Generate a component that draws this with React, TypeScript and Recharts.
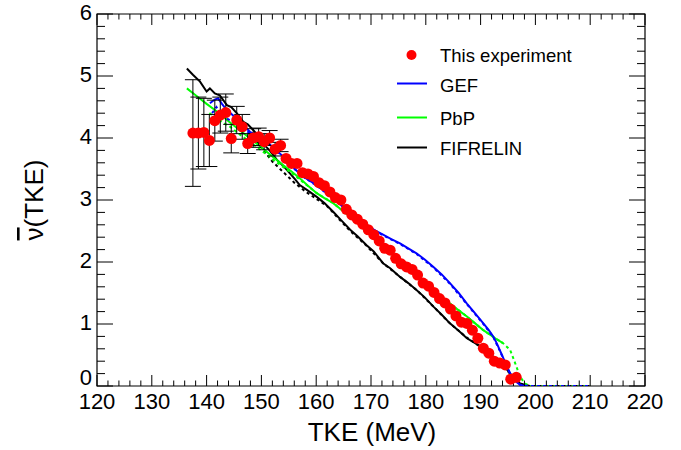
import React from 'react';
import { ComposedChart, Line, Scatter, ErrorBar, XAxis, YAxis, ReferenceArea } from 'recharts';

// measured experimental points (TKE in MeV, mean neutron multiplicity)
const expTke = [
  137.5, 138.5, 139.5, 140.5, 141.5, 142.5, 143.5, 144.5, 145.5, 146.5,
  147.5, 148.5, 149.5, 150.5, 151.5, 152.5, 153.5, 154.5, 155.5, 156.5,
  157.5, 158.5, 159.5, 160.5, 161.5, 162.5, 163.5, 164.5, 165.5, 166.5,
  167.5, 168.5, 169.5, 170.5, 171.5, 172.5, 173.5, 174.5, 175.5, 176.5,
  177.5, 178.5, 179.5, 180.5, 181.5, 182.5, 183.5, 184.5, 185.5, 186.5,
  187.5, 188.5, 189.5, 190.5, 191.5, 192.5, 193.5, 194.5, 195.5, 196.5,
];
const expNu = [
  4.08, 4.08, 4.09, 3.96, 4.28, 4.37, 4.41, 3.99, 4.29, 4.18,
  3.91, 4.0, 4.02, 3.94, 4.0, 3.82, 3.88, 3.67, 3.59, 3.59,
  3.44, 3.42, 3.38, 3.28, 3.23, 3.13, 3.04, 3.0, 2.85, 2.76,
  2.69, 2.61, 2.52, 2.44, 2.34, 2.22, 2.19, 2.06, 1.97, 1.92,
  1.88, 1.79, 1.66, 1.61, 1.51, 1.41, 1.34, 1.24, 1.13, 1.03,
  1.01, 0.9, 0.77, 0.61, 0.53, 0.4, 0.37, 0.34, 0.11, 0.14,
];
// uncertainties; beyond ~155 MeV they are hidden under the markers
const expErr = [
  0.86, 0.58, 0.55, 0.42, 0.33, 0.29, 0.3, 0.23, 0.22, 0.2,
  0.16, 0.15, 0.14, 0.13, 0.12, 0.11, 0.1,
];

// GEF
const gefTke = [140.6, 141.5, 142.1, 142.8, 143.7, 145.0, 146.1, 147.9, 149.5, 151.0, 152.5, 154.0, 155.5, 157.0, 158.5, 160.1, 161.5, 163.1, 164.5, 166.2, 167.7, 169.2, 170.7, 172.2, 173.7, 175.3, 176.8, 178.3, 179.8, 181.4, 182.9, 184.4, 186.0, 187.5, 189.0, 190.5, 191.5, 192.3, 193.0, 193.5, 194.0, 194.5, 195.1, 195.7, 196.5, 197.2, 198.0];
const gefNu = [4.56, 4.62, 4.64, 4.55, 4.45, 4.35, 4.26, 4.1, 4.02, 3.94, 3.82, 3.7, 3.56, 3.42, 3.33, 3.24, 3.14, 3.03, 2.92, 2.81, 2.7, 2.6, 2.51, 2.44, 2.37, 2.3, 2.22, 2.14, 2.04, 1.92, 1.8, 1.66, 1.5, 1.33, 1.17, 1.01, 0.9, 0.8, 0.68, 0.58, 0.48, 0.37, 0.26, 0.15, 0.07, 0.02, 0.0];
const gefDashTke = [141.0, 141.8, 142.8, 144.0, 146.0, 148.0, 151.0, 154.0, 157.0, 160.1, 163.1, 166.2, 169.2, 172.2, 175.3, 178.3, 181.4, 184.4, 187.5, 190.5, 192.3, 193.5, 194.5, 195.7, 197.2, 198.5, 200.0, 210.0];
const gefDashNu = [4.4, 4.5, 4.35, 4.3, 4.2, 4.07, 3.93, 3.69, 3.41, 3.23, 3.02, 2.8, 2.59, 2.43, 2.29, 2.13, 1.91, 1.65, 1.32, 1.0, 0.79, 0.57, 0.36, 0.14, 0.02, 0.0, 0.0, 0.0];

// PbP
const pbpTke = [136.4, 138.0, 140.0, 142.0, 144.0, 146.0, 148.0, 150.0, 152.0, 154.0, 155.5, 157.0, 158.5, 160.1, 161.5, 163.1, 164.5, 166.2, 167.7, 169.2, 170.7, 172.2, 173.7, 175.3, 176.8, 178.3, 179.8, 181.4, 182.9, 184.4, 186.0, 187.5, 189.0, 190.5, 192.0, 193.0, 194.1];
const pbpNu = [4.8, 4.69, 4.55, 4.42, 4.27, 4.13, 3.99, 3.85, 3.7, 3.56, 3.46, 3.35, 3.23, 3.11, 3.03, 2.95, 2.85, 2.73, 2.63, 2.52, 2.4, 2.27, 2.15, 2.03, 1.91, 1.79, 1.67, 1.55, 1.44, 1.33, 1.22, 1.12, 1.01, 0.9, 0.81, 0.75, 0.69];
const pbpDashTke = [140.5, 141.5, 143.0, 144.3, 146.0, 148.0, 150.0, 152.0, 154.0, 156.0, 158.0, 160.1, 163.1, 166.2, 169.2, 172.2, 175.3, 178.3, 181.4, 184.4, 187.5, 190.5, 192.0, 194.1, 195.4, 196.3, 197.2, 198.1, 199.0, 210.0];
const pbpDashNu = [4.4, 4.34, 4.25, 4.18, 4.06, 3.93, 3.8, 3.66, 3.53, 3.4, 3.26, 3.11, 2.95, 2.73, 2.52, 2.27, 2.03, 1.79, 1.55, 1.33, 1.12, 0.9, 0.81, 0.69, 0.58, 0.37, 0.15, 0.04, 0.0, 0.0];

// FIFRELIN
const fifTke = [136.4, 137.5, 138.8, 140.0, 140.6, 141.5, 142.4, 143.7, 144.5, 145.5, 146.7, 147.5, 148.5, 149.5, 150.3, 151.5, 152.8, 154.0, 155.2, 156.2, 157.0, 158.5, 160.1, 161.5, 163.1, 164.5, 166.2, 167.5, 169.2, 170.5, 172.2, 173.5, 175.3, 176.8, 178.3, 179.8, 181.4, 183.0, 184.4, 186.0, 187.5, 189.0, 190.5, 192.0, 193.5, 194.5, 195.4, 196.3, 197.2, 198.0, 199.0];
const fifNu = [5.12, 5.02, 4.91, 4.75, 4.8, 4.72, 4.69, 4.53, 4.5, 4.4, 4.26, 4.22, 4.13, 4.02, 3.91, 3.8, 3.65, 3.55, 3.43, 3.33, 3.24, 3.15, 3.05, 2.95, 2.81, 2.68, 2.52, 2.42, 2.27, 2.17, 1.98, 1.9, 1.76, 1.66, 1.55, 1.43, 1.28, 1.14, 1.01, 0.89, 0.77, 0.69, 0.61, 0.5, 0.37, 0.3, 0.2, 0.11, 0.04, 0.01, 0.0];
const fifDashTke = [146.0, 148.0, 150.0, 152.0, 154.0, 156.0, 158.0, 160.0, 162.0, 164.5, 166.2, 169.2, 172.2, 175.3, 178.3, 181.4, 184.4, 187.5, 190.5, 193.5, 195.4, 197.2, 199.0, 210.0];
const fifDashNu = [4.22, 4.05, 3.85, 3.62, 3.45, 3.28, 3.14, 3.02, 2.9, 2.66, 2.5, 2.26, 1.98, 1.76, 1.55, 1.28, 1.01, 0.78, 0.6, 0.37, 0.2, 0.04, 0.0, 0.0];

const xMajor = [120, 130, 140, 150, 160, 170, 180, 190, 200, 210, 220];
const yMajor = [0, 1, 2, 3, 4, 5, 6];

const PLOT_TOP = 14;
const PLOT_BOTTOM = 386;
const PLOT_LEFT = 97;
const PLOT_RIGHT = 645;
const FONT = '"Liberation Sans", Arial, Helvetica, sans-serif';

const withMinors = (major: number[], n: number) => {
  const out: number[] = [];
  for (let i = 0; i < major.length; i++) {
    out.push(major[i]);
    if (i < major.length - 1) {
      const step = (major[i + 1] - major[i]) / n;
      for (let k = 1; k < n; k++) out.push(Math.round((major[i] + k * step) * 1000) / 1000);
    }
  }
  return out;
};
const xTicks = withMinors(xMajor, 5);
const yTicks = withMinors(yMajor, 5);

const pairs = (xs: number[], ys: number[]) => xs.map((x, i) => ({ x, y: ys[i] }));
const expData = expTke.map((x, i) => ({ x, y: expNu[i] }));
const errData = expErr.map((e, i) => ({ x: expTke[i], y: expNu[i], err: e }));

const XTick = (props: any) => {
  const { x, payload } = props;
  const v = payload.value;
  const major = xMajor.includes(v);
  const len = major ? 11 : 5.5;
  return (
    <g>
      <line x1={x} x2={x} y1={PLOT_BOTTOM} y2={PLOT_BOTTOM - len} stroke="#000" strokeWidth={1} />
      <line x1={x} x2={x} y1={PLOT_TOP} y2={PLOT_TOP + len} stroke="#000" strokeWidth={1} />
      {major && (
        <text x={x} y={PLOT_BOTTOM + 23} textAnchor="middle" fontSize={22} fontFamily={FONT} fill="#000">
          {v}
        </text>
      )}
    </g>
  );
};

const YTick = (props: any) => {
  const { y, payload } = props;
  const v = payload.value;
  const major = yMajor.includes(v);
  const len = major ? 16 : 8;
  return (
    <g>
      <line x1={PLOT_LEFT} x2={PLOT_LEFT + len} y1={y} y2={y} stroke="#000" strokeWidth={1} />
      <line x1={PLOT_RIGHT} x2={PLOT_RIGHT - len} y1={y} y2={y} stroke="#000" strokeWidth={1} />
      {major && (
        <text x={PLOT_LEFT - 5} y={v === 0 ? y - 1 : y + 6} textAnchor="end" fontSize={22} fontFamily={FONT} fill="#000">
          {v}
        </text>
      )}
    </g>
  );
};

const Dot = (p: any) => <circle cx={p.cx} cy={p.cy} r={5.5} fill="#ff0000" />;
const NoShape = () => <g />;

const legendRows = [
  { label: 'This experiment', y: 55, base: 61.5, kind: 'dot', color: '#ff0000' },
  { label: 'GEF', y: 83.5, base: 92, kind: 'line', color: '#0000ff' },
  { label: 'PbP', y: 117.5, base: 125, kind: 'line', color: '#00ff00' },
  { label: 'FIFRELIN', y: 147.5, base: 155, kind: 'line', color: '#000000' },
];

export default function App() {
  const extra: any = {};
  return (
    <div style={{ position: 'absolute', left: 0, top: 0, width: 681, height: 450, background: '#fff' }}>
      <ComposedChart width={681} height={450} margin={{ top: PLOT_TOP, right: 681 - PLOT_RIGHT, bottom: 0, left: 0 }}>
        <XAxis
          type="number"
          dataKey="x"
          domain={[120, 220]}
          ticks={xTicks}
          interval={0}
          tick={XTick}
          tickLine={false}
          axisLine={false}
          tickSize={0}
          tickMargin={0}
          height={450 - PLOT_BOTTOM}
          allowDataOverflow
        />
        <YAxis
          type="number"
          domain={[0, 6]}
          ticks={yTicks}
          interval={0}
          tick={YTick}
          tickLine={false}
          axisLine={false}
          tickSize={0}
          tickMargin={0}
          width={PLOT_LEFT}
          allowDataOverflow
        />
        <ReferenceArea x1={120} x2={220} y1={0} y2={6} fill="none" fillOpacity={0} stroke="#000" strokeWidth={1.2} />
        <Line data={pairs(fifDashTke, fifDashNu)} dataKey="y" type="linear" stroke="#000" strokeWidth={2} strokeDasharray="3 3" dot={false} isAnimationActive={false} />
        <Line data={pairs(fifTke, fifNu)} dataKey="y" type="linear" stroke="#000" strokeWidth={2} dot={false} isAnimationActive={false} />
        <Line data={pairs(pbpDashTke, pbpDashNu)} dataKey="y" type="linear" stroke="#00ff00" strokeWidth={2} strokeDasharray="3 3" dot={false} isAnimationActive={false} />
        <Line data={pairs(pbpTke, pbpNu)} dataKey="y" type="linear" stroke="#00ff00" strokeWidth={2} dot={false} isAnimationActive={false} />
        <Line data={pairs(gefDashTke, gefDashNu)} dataKey="y" type="linear" stroke="#0000ff" strokeWidth={2} strokeDasharray="3 3" dot={false} isAnimationActive={false} />
        <Line data={pairs(gefTke, gefNu)} dataKey="y" type="linear" stroke="#0000ff" strokeWidth={2} dot={false} isAnimationActive={false} />
        <Scatter data={errData} dataKey="y" shape={NoShape} isAnimationActive={false}>
          <ErrorBar dataKey="err" direction="y" width={8} stroke="#000" strokeWidth={1} isAnimationActive={false} {...extra} zIndex={500} />
        </Scatter>
        <Scatter data={expData} dataKey="y" shape={Dot} isAnimationActive={false} {...extra} zIndex={2000} />
      </ComposedChart>
      <svg width={681} height={450} style={{ position: 'absolute', left: 0, top: 0, pointerEvents: 'none' }}>
        <text x={372} y={441} textAnchor="middle" fontSize={26} fontFamily={FONT} fill="#000">
          TKE (MeV)
        </text>
        <text x={0} y={0} transform="translate(43 200) rotate(-90)" textAnchor="middle" fontSize={26} fontFamily={FONT} fill="#000">
          <tspan style={{ textDecoration: 'overline' }}>{'\u03BD'}</tspan>
          (TKE)
        </text>
        {legendRows.map((r) => (
          <g key={r.label}>
            {r.kind === 'dot' ? (
              <circle cx={411.5} cy={r.y} r={5} fill={r.color} />
            ) : (
              <line x1={397} x2={427} y1={r.y} y2={r.y} stroke={r.color} strokeWidth={2} />
            )}
            <text x={440} y={r.base} fontSize={18.5} fontFamily={FONT} fill="#000">
              {r.label}
            </text>
          </g>
        ))}
      </svg>
    </div>
  );
}
